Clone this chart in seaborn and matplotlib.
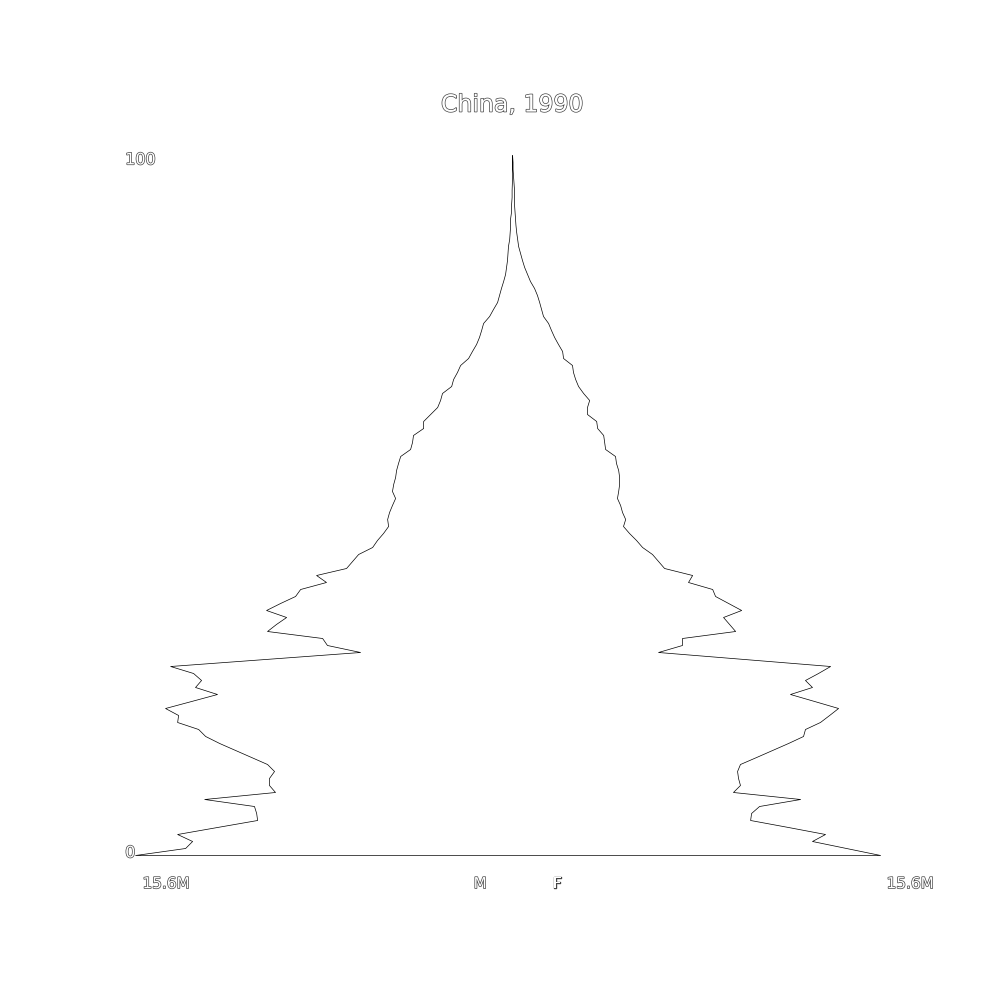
import numpy as np
import matplotlib
matplotlib.use("Agg")
import matplotlib.pyplot as plt
import matplotlib.patheffects as pe
import seaborn as sns

sns.set_theme(style="white")
plt.rcParams['font.family'] = ['DejaVu Sans']

title = "China, 1990"
ages = list(range(0, 101))

# population by single year of age, millions
male = [15.6, 13.53, 13.24, 13.86, 12.21, 10.55, 10.59, 10.68, 12.74, 9.81,
        10.06, 10.06, 9.85, 10.14, 10.80, 11.46, 12.12, 12.70, 12.99, 13.86,
        13.82, 14.36, 13.28, 12.21, 13.12, 12.87, 13.20, 14.15, 10.22, 6.29,
        7.66, 7.86, 10.14, 9.77, 9.35, 10.18, 9.60, 8.98, 8.77, 7.70,
        8.11, 6.87, 6.62, 6.37, 5.79, 5.59, 5.34, 5.13, 5.17, 5.09,
        4.97, 4.84, 4.97, 4.92, 4.84, 4.80, 4.72, 4.63, 4.22, 4.14,
        4.10, 3.68, 3.68, 3.39, 3.10, 2.98, 2.90, 2.52, 2.44, 2.28,
        2.15, 1.82, 1.66, 1.49, 1.37, 1.28, 1.20, 0.95, 0.79, 0.62,
        0.54, 0.46, 0.37, 0.29, 0.25, 0.21, 0.19, 0.17, 0.12, 0.10,
        0.08, 0.08, 0.04, 0.04, 0.02, 0.02, 0.01, 0.01, 0.01, 0.0, 0.0]
female = [15.23, 13.82, 12.41, 12.95, 11.42, 9.85, 9.89, 10.22, 11.92, 9.14,
          9.43, 9.35, 9.31, 9.43, 10.10, 10.76, 11.42, 12.04, 12.12, 12.74,
          13.12, 13.49, 12.50, 11.50, 12.41, 12.12, 12.66, 13.16, 9.60, 6.04,
          7.03, 7.03, 9.23, 8.98, 8.73, 9.48, 8.94, 8.40, 8.28, 7.28,
          7.45, 6.29, 6.04, 5.79, 5.38, 5.13, 4.84, 4.59, 4.68, 4.55,
          4.47, 4.34, 4.39, 4.43, 4.43, 4.39, 4.30, 4.26, 3.85, 3.81,
          3.77, 3.52, 3.48, 3.10, 3.10, 3.19, 2.94, 2.73, 2.61, 2.52,
          2.48, 2.11, 2.07, 1.90, 1.74, 1.61, 1.49, 1.28, 1.20, 1.12,
          1.03, 0.91, 0.74, 0.62, 0.50, 0.41, 0.33, 0.25, 0.21, 0.17,
          0.14, 0.12, 0.10, 0.08, 0.08, 0.08, 0.06, 0.04, 0.02, 0.02, 0.0]

max_label = "15.6M"
age_ticks = [0, 100]

fig = plt.figure(figsize=(10, 10), dpi=100)
ax = fig.add_axes([0, 0, 1, 1])
ax.set_facecolor("white")

m = -np.array(male)
f = np.array(female)
ax.fill_betweenx(ages, m, f, facecolor="white", edgecolor="black", linewidth=0.5)

ax.set_xlim(-21.19, 20.19)
ax.set_ylim(-20.714, 122.143)
ax.axis("off")

outline = [pe.Stroke(linewidth=1.0, foreground="#444444"), pe.Normal()]

ax.text(0, 107.2, title, ha="center", va="center", fontsize=17,
        color="white", path_effects=outline)
for a in age_ticks:
    ax.text(-16.01, a + 0.3 if a == 0 else a - 0.7, str(a), ha="left", va="center",
            fontsize=11.5, color="white", path_effects=outline)
ax.text(-14.32, -4.1, max_label, ha="center", va="center", fontsize=11,
        color="white", path_effects=outline)
ax.text(16.47, -4.1, max_label, ha="center", va="center", fontsize=11,
        color="white", path_effects=outline)
ax.text(-1.32, -4.1, "M", ha="center", va="center", fontsize=11,
        color="white", path_effects=outline)
ax.text(1.86, -4.1, "F", ha="center", va="center", fontsize=11,
        color="white", path_effects=outline)

fig.savefig("out.png", dpi=100, facecolor="white")
